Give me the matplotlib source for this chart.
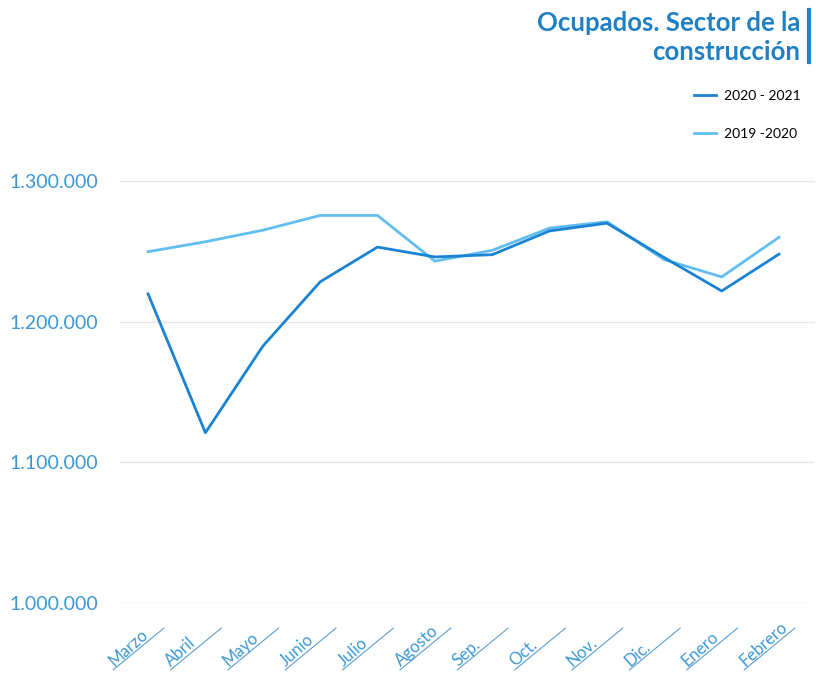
import matplotlib
matplotlib.use('Agg')
import matplotlib.pyplot as plt
from matplotlib.transforms import offset_copy
from matplotlib.ticker import FuncFormatter

# data
meses = ['Marzo', 'Abril', 'Mayo', 'Junio', 'Julio', 'Agosto', 'Sep.', 'Oct.',
         'Nov.', 'Dic.', 'Enero', 'Febrero']
ocupados_2020_2021 = [1219700, 1121000, 1182500, 1228300, 1253000, 1246000,
                      1247600, 1264500, 1270000, 1245500, 1221800, 1248000]
ocupados_2019_2020 = [1249700, 1256800, 1265000, 1275500, 1275500, 1243000,
                      1250700, 1266500, 1271000, 1244000, 1231800, 1260000]
y_ticks = [1000000, 1100000, 1200000, 1300000]

plt.rcParams['font.family'] = ['Lato', 'DejaVu Sans']

dark = '#1b83d3'
light = '#62bdf0'
label_col = '#3c98d4'
px = 0.72  # pixels -> points at dpi 100

fig = plt.figure(figsize=(8.16, 6.75), dpi=100)
ax = fig.add_axes([0.147, 0.1067, 0.852, 0.6252])

x = list(range(len(meses)))
ax.plot(x, ocupados_2019_2020, color=light, lw=2.0, label='2019 -2020', zorder=2)
ax.plot(x, ocupados_2020_2021, color=dark, lw=2.0, label='2020 - 2021', zorder=3)

ax.set_xlim(-0.49, 11.63)
ax.set_ylim(1000000, 1300000)
ax.set_yticks(y_ticks)
ax.yaxis.set_major_formatter(FuncFormatter(lambda v, p: '{:,.0f}'.format(v).replace(',', '.')))
ax.tick_params(axis='y', length=0, pad=16, labelsize=14, labelcolor=label_col)
ax.set_xticks([])
ax.grid(axis='y', color='#e6e6e6', lw=1)
for s in ax.spines.values():
    s.set_visible(False)

# slanted month labels with underline
for i, m in enumerate(meses):
    tr = offset_copy(ax.get_xaxis_transform(), fig=fig, x=16, y=-25, units='dots')
    ax.annotate('', xy=(i, 0), xycoords=tr, xytext=(-51 * px, -42 * px),
                textcoords='offset points',
                arrowprops=dict(arrowstyle='-', color='#5a9fd0', lw=0.8,
                                shrinkA=0, shrinkB=0), annotation_clip=False)
    ax.annotate(m, xy=(i, 0), xycoords=tr, xytext=(-50 * px, -39 * px),
                textcoords='offset points', rotation=42, rotation_mode='anchor',
                ha='left', va='baseline', fontsize=12, color=label_col,
                annotation_clip=False)

# title with bar
fig.text(0.981, 0.983, 'Ocupados. Sector de la\nconstrucción', ha='right', va='top',
         fontsize=18.5, fontweight='bold', color='#1f80c4', linespacing=1.25)
fig.add_artist(plt.Line2D([0.991, 0.991], [0.908, 0.985], color='#1b83d3', lw=3))

# legend
handles, labels = ax.get_legend_handles_labels()
fig.legend(handles[::-1], labels[::-1], loc='upper right', bbox_to_anchor=(0.997, 0.885),
           frameon=False, fontsize=10, handlelength=1.6, labelspacing=1.85,
           handletextpad=0.6)

fig.savefig('out.png', dpi=100)
